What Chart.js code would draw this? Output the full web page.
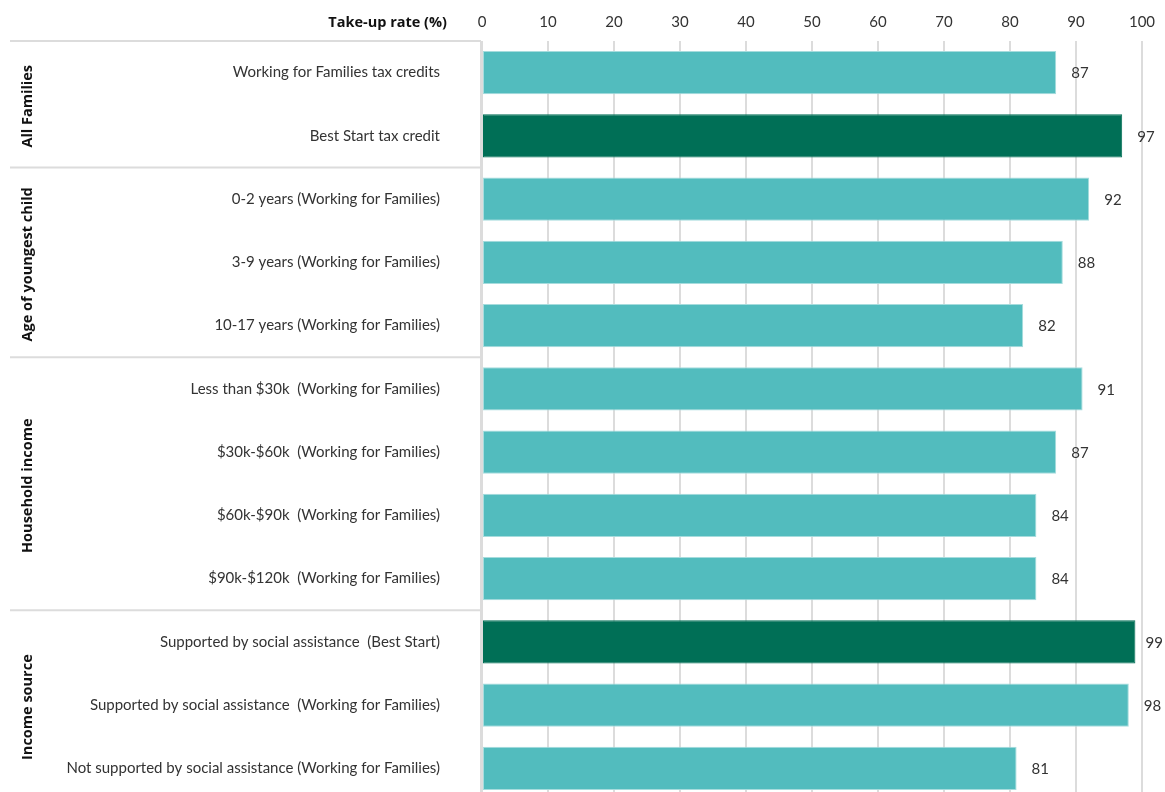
<!DOCTYPE html>
<html>
<head>
<meta charset="utf-8">
<script src="https://cdn.jsdelivr.net/npm/chart.js@4/dist/chart.umd.min.js"></script>
<style>
  html, body { margin: 0; padding: 0; background: #fff; overflow: hidden; }
  .wrap { width: 1165px; height: 792px; overflow: hidden; position: relative; }
  .wrap canvas { display: block; width: 1165px; height: 801px; }
</style>
</head>
<body>
<div class="wrap">
  <canvas class="uptake-chart" width="1165" height="801"></canvas>
</div>
<script>
const categories = [
    'Working for Families tax credits',
    'Best Start tax credit',
    '0-2 years (Working for Families)',
    '3-9 years (Working for Families)',
    '10-17 years (Working for Families)',
    'Less than $30k  (Working for Families)',
    '$30k-$60k  (Working for Families)',
    '$60k-$90k  (Working for Families)',
    '$90k-$120k  (Working for Families)',
    'Supported by social assistance  (Best Start)',
    'Supported by social assistance  (Working for Families)',
    'Not supported by social assistance (Working for Families)'
];
const takeUpRates = [87, 97, 92, 88, 82, 91, 87, 84, 84, 99, 98, 81];
// which bars belong to Best Start (drawn in dark green)
const isBestStart = [false, true, false, false, false, false, false, false, false, true, false, false];

// groups: label, first index, last index
const groupNames = ['All Families', 'Age of youngest child', 'Household income', 'Income source'];
const groupStart = [0, 2, 5, 9];
const groupEnd = [1, 4, 8, 11];

const xTicks = [0, 10, 20, 30, 40, 50, 60, 70, 80, 90, 100];
const axisTitle = 'Take-up rate (%)';

const TEAL = '#52bcbe';
const GREEN = '#006f56';
const TEXT = '#333333';
const LINE = '#dcdcdc';
const FONT = "Lato, 'Noto Sans', sans-serif";
const BOLD = "bold 14.5px 'Open Sans', sans-serif";

const decorations = {
    id: 'decorations',
    afterDraw(chart) {
        const { ctx, chartArea, scales } = chart;
        const y = scales.y;
        const step = y.getPixelForValue(1) - y.getPixelForValue(0);
        ctx.save();

        // separators between groups on the label side
        ctx.strokeStyle = LINE;
        ctx.lineWidth = 2;
        const seps = [chartArea.top];
        for (let g = 0; g < groupNames.length - 1; g++) {
            seps.push(y.getPixelForValue(groupEnd[g]) + step / 2);
        }
        seps.forEach(py => {
            ctx.beginPath();
            ctx.moveTo(10, py);
            ctx.lineTo(chartArea.left - 1, py);
            ctx.stroke();
        });

        // vertical axis line
        ctx.beginPath();
        ctx.moveTo(chartArea.left - 1, chartArea.top);
        ctx.lineTo(chartArea.left - 1, chartArea.bottom);
        ctx.stroke();

        // rotated group labels
        ctx.fillStyle = '#111';
        ctx.font = BOLD;
        ctx.textAlign = 'center';
        ctx.textBaseline = 'middle';
        groupNames.forEach((name, g) => {
            const top = y.getPixelForValue(groupStart[g]) - step / 2;
            const bottom = y.getPixelForValue(groupEnd[g]) + step / 2;
            ctx.save();
            ctx.translate(28, (top + bottom) / 2 + 2);
            ctx.rotate(-Math.PI / 2);
            ctx.fillText(name, 0, 0);
            ctx.restore();
        });

        // axis title next to the tick labels
        ctx.textAlign = 'right';
        ctx.fillText(axisTitle, 447, 23);

        // value labels at bar ends, kept inside the canvas
        ctx.fillStyle = TEXT;
        ctx.font = '15px ' + FONT;
        ctx.textAlign = 'left';
        const meta = chart.getDatasetMeta(0);
        meta.data.forEach((bar, i) => {
            const txt = String(takeUpRates[i]);
            const maxX = chart.width - ctx.measureText(txt).width - 2;
            ctx.fillText(txt, Math.min(bar.x + 15, maxX), bar.y + 1);
        });
        ctx.restore();
    }
};

const config = {
    type: 'bar',
    data: {
        labels: categories,
        datasets: [{
            label: axisTitle,
            data: takeUpRates,
            backgroundColor: isBestStart.map(b => b ? GREEN : TEAL),
            borderColor: isBestStart.map(b => b ? GREEN : '#a6dcdd'),
            borderWidth: 1,
            borderSkipped: false,
            barPercentage: 0.68,
            categoryPercentage: 1
        }]
    },
    options: {
        indexAxis: 'y',
        responsive: false,
        maintainAspectRatio: false,
        animation: false,
        layout: { padding: 0 },
        plugins: {
            legend: { display: false },
            tooltip: { enabled: false }
        },
        scales: {
            x: {
                position: 'top',
                min: 0,
                max: 100,
                afterBuildTicks: scale => { scale.ticks = xTicks.map(v => ({ value: v })); },
                afterFit: scale => { scale.height = 41; },
                border: { display: false },
                grid: { color: LINE, lineWidth: 2, drawTicks: false },
                ticks: {
                    color: TEXT,
                    padding: 10,
                    maxRotation: 0,
                    font: { family: FONT, size: 15 }
                }
            },
            y: {
                afterFit: scale => { scale.width = 482; },
                border: { display: false },
                grid: { display: false, drawTicks: false },
                ticks: {
                    color: TEXT,
                    padding: 42,
                    autoSkip: false,
                    font: { family: FONT, size: 15 }
                }
            }
        }
    },
    plugins: [decorations, {
        id: 'fixedArea',
        // pin the plot box so the last row runs past the bottom edge
        afterLayout(chart) {
            const L = 482, R = 1142, T = 41, B = 800;
            const area = chart.chartArea;
            area.top = T; area.bottom = B; area.left = L; area.right = R;
            area.width = R - L;
            area.height = B - T;
            const x = chart.scales.x, y = chart.scales.y;
            x.left = L; x.right = R; x.width = R - L; x.top = 0; x.bottom = T;
            y.top = T; y.bottom = B; y.height = B - T; y.left = 0; y.right = L;
            x.configure(); y.configure();
        }
    }]
};

const canvas = document.querySelector('.uptake-chart');
const chart = new Chart(canvas, config);
</script>
</body>
</html>
